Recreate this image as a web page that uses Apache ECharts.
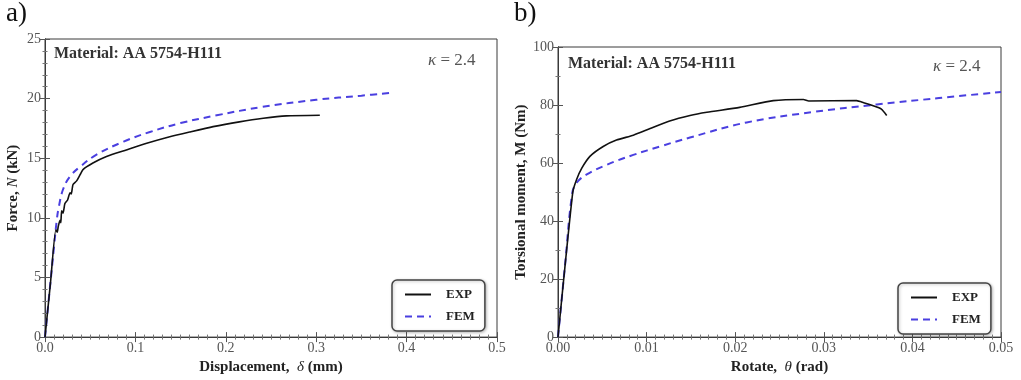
<!DOCTYPE html>
<html>
<head>
<meta charset="utf-8">
<script src="https://cdn.jsdelivr.net/npm/echarts@6/dist/echarts.min.js"></script>
<style>
html,body{margin:0;padding:0;background:#fff;}
#c{width:1021px;height:380px;}
</style>
</head>
<body>
<div id="c"></div>
<script>
// ---- Data ----
// Panel a): Force N (kN) vs displacement delta (mm)
const aExpX = [0, 0.006, 0.012, 0.0135, 0.0147, 0.0166, 0.0175, 0.0184, 0.020, 0.022, 0.025, 0.0277, 0.029, 0.031, 0.035, 0.0387, 0.042, 0.053, 0.068, 0.090, 0.1125, 0.138, 0.160, 0.186, 0.215, 0.2415, 0.267, 0.304];
const aExpY = [0, 4.5, 9.0, 8.8, 9.3, 9.8, 9.6, 10.6, 10.4, 11.2, 11.5, 12.1, 12.0, 12.8, 13.1, 13.6, 14.05, 14.6, 15.15, 15.7, 16.25, 16.8, 17.2, 17.65, 18.05, 18.35, 18.55, 18.6];
const aFemX = [0, 0.005, 0.010, 0.013, 0.015, 0.020, 0.028, 0.039, 0.057, 0.087, 0.116, 0.150, 0.190, 0.240, 0.300, 0.350, 0.385];
const aFemY = [0, 3.8, 7.6, 9.8, 10.8, 12.4, 13.5, 14.3, 15.3, 16.4, 17.2, 17.95, 18.6, 19.3, 19.9, 20.25, 20.5];
// Panel b): Torsional moment M (Nm) vs rotation theta (rad)
const bExpX = [0, 0.00166, 0.0021, 0.0027, 0.0036, 0.0051, 0.0066, 0.0085, 0.0104, 0.0126, 0.0149, 0.0168, 0.0205, 0.0243, 0.0277, 0.0283, 0.0337, 0.0345, 0.0355, 0.0365, 0.0371];
const bExpY = [0, 49.8, 54.3, 58.3, 62.3, 65.7, 67.9, 69.6, 71.9, 74.5, 76.4, 77.5, 79.2, 81.5, 81.9, 81.4, 81.5, 80.8, 79.8, 78.6, 76.4];
const bFemX = [0, 0.0008, 0.0016, 0.0021, 0.0032, 0.0055, 0.0085, 0.0115, 0.0149, 0.0213, 0.0288, 0.036, 0.043, 0.050];
const bFemY = [0, 25, 49.5, 53.2, 56.0, 59.4, 62.8, 65.7, 68.8, 74.0, 77.6, 80.2, 82.4, 84.5];
// Tick labels
const aXTicks = ['0.0', '0.1', '0.2', '0.3', '0.4', '0.5'];
const aYTicks = ['0', '5', '10', '15', '20', '25'];
const bXTicks = ['0.00', '0.01', '0.02', '0.03', '0.04', '0.05'];
const bYTicks = ['0', '20', '40', '60', '80', '100'];
const seriesNames = ['EXP', 'FEM'];

const zip = (xs, ys) => xs.map((x, i) => [x, ys[i]]);
const SERIF = '"Liberation Serif", "DejaVu Serif", serif';
const FRAME = '#3a3a3a';
const BLUE = '#4a3fe0';

function axisBase(gridIndex, max, interval, minorSplit) {
  return {
    type: 'value', gridIndex, min: 0, max, interval,
    axisLine: {show: true, lineStyle: {color: FRAME, width: 1}},
    axisTick: {show: true, inside: false, length: -5, lineStyle: {color: '#555'}},
    minorTick: {show: true, splitNumber: minorSplit, length: -2.5, lineStyle: {color: '#777'}},
    splitLine: {show: false}
  };
}
const nameStyle = {color: '#222', fontFamily: SERIF, fontSize: 15, fontWeight: 'bold',
  rich: {i: {fontStyle: 'italic', fontWeight: 'normal', fontFamily: SERIF, fontSize: 15, color: '#222'}}};

function xAxes(gridIndex, max, interval, labels, name, minorSplit) {
  return [
    Object.assign(axisBase(gridIndex, max, interval, minorSplit), {
      position: 'bottom',
      axisLabel: {color: '#555', fontFamily: SERIF, fontSize: 14, margin: 4,
        formatter: v => labels[Math.round(v / interval)]},
      name: name, nameLocation: 'middle', nameGap: 20, nameTextStyle: nameStyle
    }),
    Object.assign(axisBase(gridIndex, max, interval, minorSplit), {position: 'top', axisLabel: {show: false}})
  ];
}
function yAxes(gridIndex, max, interval, labels, name, minorSplit, gap) {
  return [
    Object.assign(axisBase(gridIndex, max, interval, minorSplit), {
      position: 'left',
      axisLabel: {color: '#555', fontFamily: SERIF, fontSize: 14, margin: 4,
        formatter: v => labels[Math.round(v / interval)]},
      name: name, nameLocation: 'middle', nameGap: gap, nameRotate: 90, nameTextStyle: nameStyle
    }),
    Object.assign(axisBase(gridIndex, max, interval, minorSplit), {position: 'right', axisLabel: {show: false}})
  ];
}

function lineSeries(name, xi, yi, data) {
  const isExp = name === seriesNames[0];
  return {
    name, type: 'line', xAxisIndex: xi, yAxisIndex: yi, data,
    symbol: 'none', showSymbol: false, smooth: isExp ? 0.2 : 0.4,
    lineStyle: isExp ? {color: '#111', width: 1.6} : {color: BLUE, width: 2, type: [7, 5]},
    itemStyle: {color: isExp ? '#111' : BLUE},
    z: isExp ? 3 : 2
  };
}

function legend(left, top) {
  return {
    orient: 'vertical', left, top, data: seriesNames,
    selectedMode: false,
    padding: [8, 10, 8, 12], itemGap: 9, itemWidth: 26, itemHeight: 14,
    itemStyle: {opacity: 0},
    borderColor: '#444', borderWidth: 1.5, borderRadius: 5,
    backgroundColor: '#fff', shadowColor: 'rgba(0,0,0,0.25)', shadowBlur: 3, shadowOffsetX: 1, shadowOffsetY: 1,
    textStyle: {color: '#222', fontFamily: SERIF, fontSize: 13, fontWeight: 'bold', padding: [0, 0, 0, 10]}
  };
}

const kappa = {rich: {i: {fontStyle: 'italic', fontFamily: SERIF, fontSize: 17, fill: '#555'}, n: {fontFamily: SERIF, fontSize: 17, fill: '#555'}}, text: '{i|κ}{n| = 2.4}'};

const chart = echarts.init(document.getElementById('c'), null, {renderer: 'canvas'});
chart.setOption({
  animation: false,
  backgroundColor: '#fff',
  grid: [
    {left: 45, top: 39, width: 452, height: 303, show: true, borderColor: FRAME, borderWidth: 1, backgroundColor: 'transparent'},
    {left: 558, top: 47, width: 443, height: 295, show: true, borderColor: FRAME, borderWidth: 1, backgroundColor: 'transparent'}
  ],
  xAxis: [
    ...xAxes(0, 0.5, 0.1, aXTicks, 'Displacement,  {i|δ} (mm)', 10),
    ...xAxes(1, 0.05, 0.01, bXTicks, 'Rotate,  {i|θ} (rad)', 10)
  ],
  yAxis: [
    ...yAxes(0, 25, 5, aYTicks, 'Force, {i|N} (kN)', 5, 24),
    ...yAxes(1, 100, 20, bYTicks, 'Torsional moment, M (Nm)', 2, 28)
  ],
  legend: [legend(392, 280), legend(898, 283)],
  series: [
    lineSeries(seriesNames[1], 0, 0, zip(aFemX, aFemY)),
    lineSeries(seriesNames[0], 0, 0, zip(aExpX, aExpY)),
    lineSeries(seriesNames[1], 2, 2, zip(bFemX, bFemY)),
    lineSeries(seriesNames[0], 2, 2, zip(bExpX, bExpY))
  ],
  graphic: [
    {type: 'text', left: 6, top: 0, style: {text: 'a)', font: '27px ' + SERIF, fill: '#111'}},
    {type: 'text', left: 514, top: 0, style: {text: 'b)', font: '27px ' + SERIF, fill: '#111'}},
    {type: 'text', left: 54, top: 46, style: {text: 'Material: AA 5754-H111', font: 'bold 16px ' + SERIF, fill: '#333'}},
    {type: 'text', left: 568, top: 56, style: {text: 'Material: AA 5754-H111', font: 'bold 16px ' + SERIF, fill: '#333'}},
    {type: 'text', left: 428, top: 52, style: kappa},
    {type: 'text', left: 933, top: 58, style: kappa}
  ]
});
</script>
</body>
</html>
